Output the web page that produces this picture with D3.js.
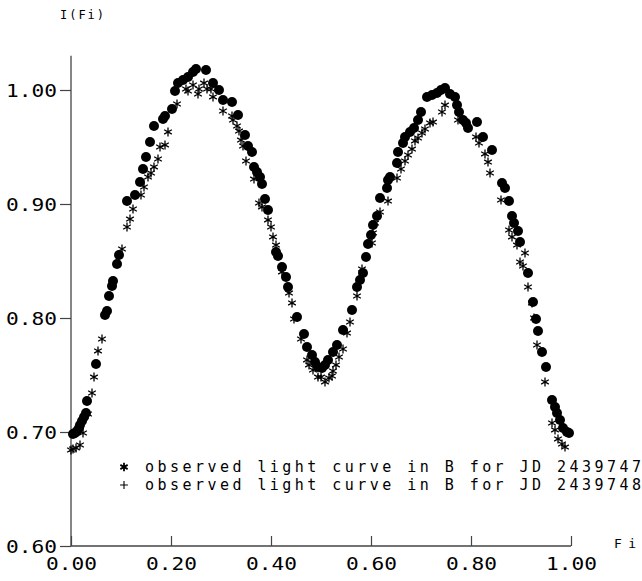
<!DOCTYPE html>
<html><head><meta charset="utf-8">
<script src="https://cdn.jsdelivr.net/npm/d3@7"></script>
<style>
html,body{margin:0;padding:0;background:#fff;}
svg text{font-family:"DejaVu Sans Mono","Liberation Mono",monospace;fill:#000;}
</style></head>
<body><svg id="c" width="642" height="581"></svg>
<script>
// Phase (x) and relative intensity (y) for the circles series, JD 2439747
const phaseA = [0.004,0.008,0.012,0.016,0.018,0.022,0.026,0.030,0.032,0.050,0.068,0.072,0.076,0.082,0.084,0.092,0.096,0.112,0.128,0.138,0.144,0.150,0.158,0.166,0.184,0.188,0.202,0.208,0.214,0.224,0.234,0.244,0.250,0.270,0.284,0.296,0.304,0.322,0.334,0.348,0.354,0.362,0.366,0.372,0.378,0.382,0.388,0.394,0.410,0.414,0.422,0.430,0.434,0.452,0.466,0.472,0.482,0.488,0.494,0.502,0.508,0.514,0.524,0.532,0.544,0.562,0.572,0.578,0.584,0.590,0.594,0.600,0.604,0.612,0.618,0.632,0.634,0.638,0.652,0.654,0.664,0.668,0.678,0.686,0.694,0.700,0.712,0.722,0.732,0.740,0.748,0.758,0.768,0.772,0.776,0.784,0.790,0.794,0.812,0.824,0.842,0.862,0.868,0.876,0.882,0.886,0.894,0.898,0.914,0.924,0.930,0.934,0.942,0.950,0.962,0.968,0.972,0.978,0.984,0.992,0.996];
const fluxA = [0.6982,0.6991,0.7009,0.7035,0.7061,0.7096,0.7132,0.7167,0.7272,0.7596,0.8026,0.8061,0.8193,0.8281,0.8325,0.8474,0.8553,0.9026,0.9079,0.9193,0.9307,0.9412,0.9544,0.9684,0.9746,0.9772,0.9833,0.9991,1.0061,1.0088,1.0114,1.0158,1.0184,1.0175,1.0061,1.0000,0.9912,0.9895,0.9781,0.9605,0.9509,0.9456,0.9325,0.9281,0.9237,0.9175,0.9044,0.8947,0.8579,0.8544,0.8447,0.8360,0.8272,0.8009,0.7860,0.7746,0.7675,0.7614,0.7570,0.7561,0.7588,0.7632,0.7702,0.7763,0.7895,0.8070,0.8272,0.8333,0.8395,0.8535,0.8649,0.8728,0.8816,0.8895,0.9053,0.9140,0.9211,0.9237,0.9360,0.9456,0.9535,0.9588,0.9632,0.9667,0.9737,0.9807,0.9939,0.9956,0.9974,1.0000,1.0018,0.9965,0.9939,0.9868,0.9807,0.9737,0.9711,0.9667,0.9719,0.9588,0.9474,0.9184,0.9140,0.9026,0.8895,0.8833,0.8763,0.8667,0.8395,0.8140,0.7991,0.7886,0.7702,0.7570,0.7281,0.7219,0.7167,0.7105,0.7035,0.7000,0.6991];
// Phase and intensity for the asterisk series, JD 2439748
const phaseB = [0.000,0.004,0.010,0.018,0.024,0.034,0.042,0.046,0.054,0.062,0.102,0.112,0.118,0.124,0.140,0.146,0.154,0.160,0.166,0.174,0.178,0.188,0.194,0.212,0.230,0.234,0.244,0.254,0.256,0.266,0.272,0.280,0.284,0.304,0.322,0.324,0.332,0.336,0.340,0.344,0.350,0.366,0.376,0.382,0.394,0.400,0.404,0.410,0.422,0.436,0.442,0.446,0.460,0.472,0.476,0.484,0.494,0.500,0.508,0.516,0.522,0.524,0.530,0.536,0.544,0.552,0.558,0.572,0.582,0.602,0.604,0.608,0.618,0.634,0.652,0.660,0.668,0.674,0.682,0.688,0.694,0.702,0.708,0.718,0.724,0.742,0.748,0.774,0.810,0.816,0.828,0.834,0.838,0.860,0.876,0.882,0.892,0.908,0.898,0.904,0.914,0.922,0.926,0.932,0.948,0.962,0.968,0.974,0.982,0.988];
const fluxB = [0.6842,0.6851,0.6860,0.6886,0.6991,0.7158,0.7342,0.7482,0.7711,0.7816,0.8605,0.8798,0.8868,0.8956,0.9079,0.9149,0.9237,0.9272,0.9325,0.9395,0.9500,0.9518,0.9632,0.9877,1.0009,0.9991,1.0044,0.9965,1.0009,1.0061,1.0009,1.0009,0.9939,0.9816,0.9772,0.9737,0.9684,0.9640,0.9561,0.9509,0.9377,0.9219,0.9009,0.8974,0.8860,0.8798,0.8711,0.8640,0.8404,0.8219,0.8132,0.7991,0.7816,0.7632,0.7588,0.7544,0.7482,0.7482,0.7439,0.7474,0.7491,0.7535,0.7588,0.7658,0.7728,0.7868,0.7965,0.8193,0.8430,0.8658,0.8746,0.8833,0.8930,0.9026,0.9228,0.9307,0.9377,0.9430,0.9482,0.9553,0.9579,0.9623,0.9658,0.9711,0.9719,0.9807,0.9868,0.9737,0.9588,0.9535,0.9439,0.9368,0.9272,0.9035,0.8772,0.8711,0.8640,0.8570,0.8491,0.8456,0.8272,0.8132,0.8000,0.7763,0.7439,0.7079,0.7018,0.6939,0.6895,0.6868];
const xTicks = [0, 0.2, 0.4, 0.6, 0.8, 1.0];
const yTicks = [0.6, 0.7, 0.8, 0.9, 1.0];
const legendLabels = ["observed light curve in B for JD 2439747", "observed light curve in B for JD 2439748"];
const yLabel = "I(Fi)";
const xLabel = "Fi";

const svg = d3.select("#c");
const x = d3.scaleLinear().domain([0, 1]).range([71, 571]);
const y = d3.scaleLinear().domain([0.6, 1.0]).range([546, 90]);

const fmt = d3.format(".2f");
const xMinor = d3.range(0, 1.0001, 0.02).map(v => +v.toFixed(2));
const yMinor = d3.range(0.6, 1.0301, 0.01).map(v => +v.toFixed(2));

// Y axis
const gy = svg.append("g").attr("transform", "translate(71,0)");
gy.call(d3.axisLeft(y).tickValues(yMinor).tickSize(5).tickFormat(""));
gy.call(d3.axisLeft(y).tickValues(yTicks).tickSize(11).tickPadding(3).tickFormat(fmt));
gy.selectAll(".domain").remove();
gy.append("line").attr("x1",0).attr("x2",0).attr("y1",y(1.03)).attr("y2",y(0.6)).attr("stroke","#444").attr("stroke-width",1.3);

// X axis
const gx = svg.append("g").attr("transform", "translate(0,546)");
gx.call(d3.axisBottom(x).tickValues(xMinor).tickSize(-6).tickFormat(""));
gx.call(d3.axisBottom(x).tickValues(xTicks).tickSize(-10).tickPadding(12).tickFormat(fmt));
gx.selectAll(".domain").remove();
gx.append("line").attr("x1",x(0)).attr("x2",x(1)).attr("y1",0).attr("y2",0).attr("stroke","#444").attr("stroke-width",1.3);

svg.selectAll(".tick line").attr("stroke","#444").attr("stroke-width",1.2);
svg.selectAll(".tick text").attr("font-size",17).attr("textLength",51).attr("lengthAdjust","spacingAndGlyphs").attr("fill","#222");
gy.selectAll(".tick text").attr("dy","0.36em");
gx.selectAll(".tick text").attr("dy","0.72em");

// axis titles
svg.append("text").attr("x",60).attr("y",19).attr("font-size",12).attr("textLength",44).attr("lengthAdjust","spacing").text(yLabel);
svg.append("text").attr("x",614).attr("y",548).attr("font-size",13).attr("textLength",22).attr("lengthAdjust","spacing").text(xLabel);

// Data: circles
svg.append("g").selectAll("circle").data(phaseA.map((p,i)=>[p,fluxA[i]])).join("circle")
  .attr("cx", d=>x(d[0])).attr("cy", d=>y(d[1])).attr("r",5).attr("fill","#000");

// Data: asterisks
const ast = d3.symbol().type(d3.symbolAsterisk).size(55);
svg.append("g").selectAll("path").data(phaseB.map((p,i)=>[p,fluxB[i]])).join("path")
  .attr("transform", d=>`translate(${x(d[0])},${y(d[1])})`)
  .attr("d", ast).attr("fill","none").attr("stroke","#000").attr("stroke-width",1.3);

// Legend
const legendSyms = [d3.symbol().type(d3.symbolAsterisk).size(50), d3.symbol().type(d3.symbolPlus).size(22)];
const lg = svg.append("g");
legendLabels.forEach((t,i)=>{
  const yy = 472 + i*18;
  lg.append("path").attr("transform",`translate(124,${yy-5})`).attr("d",legendSyms[i])
    .attr("fill","none").attr("stroke","#000").attr("stroke-width", i===0 ? 1.8 : 1.1);
  lg.append("text").attr("x",145).attr("y",yy).attr("font-size",15).attr("textLength",496).attr("lengthAdjust","spacing").text(t);
});
</script></body></html>
